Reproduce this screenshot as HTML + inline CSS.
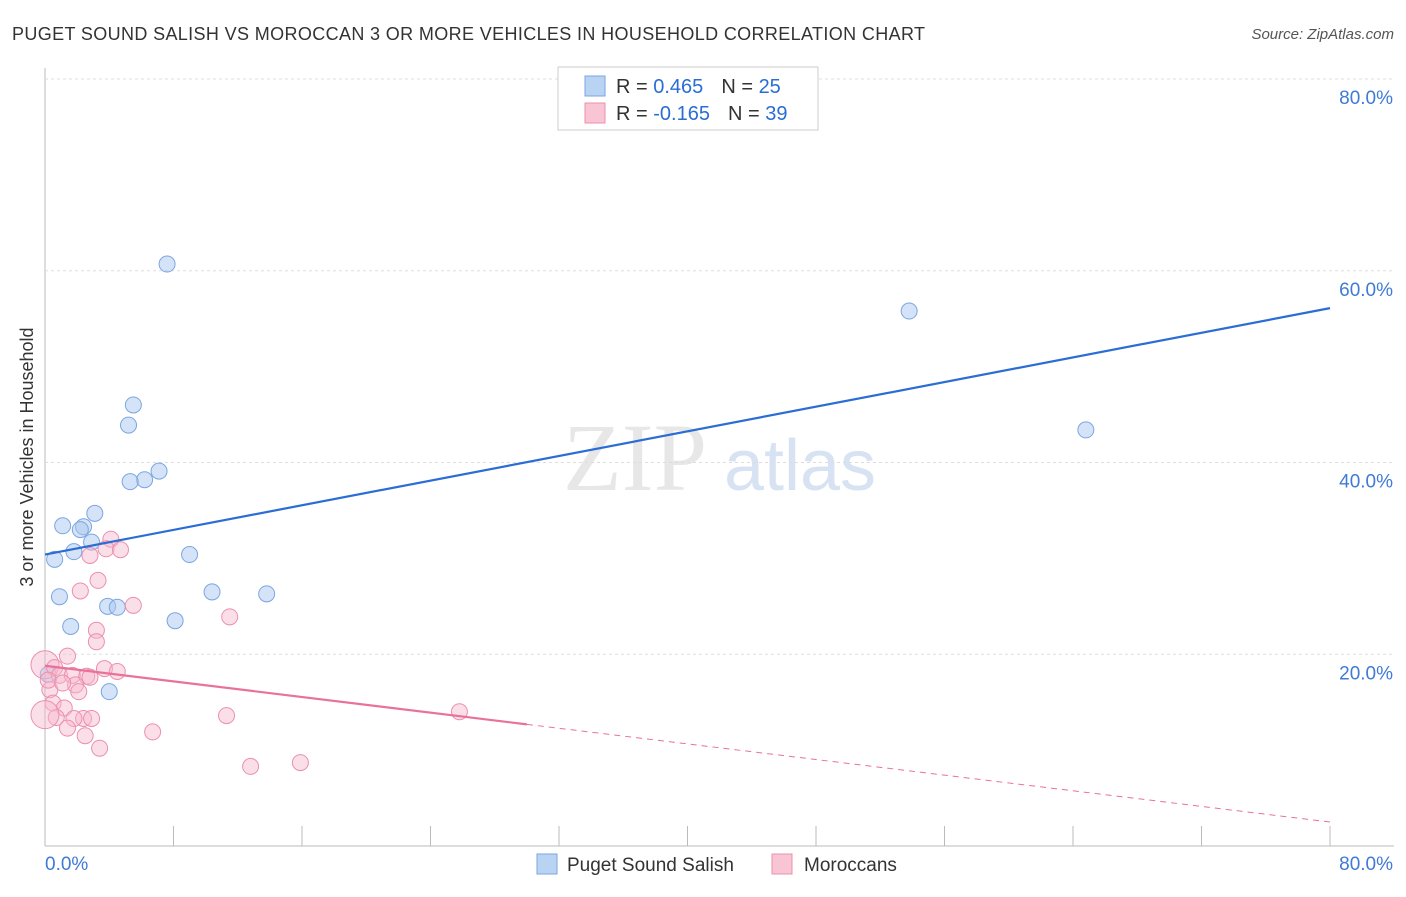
<!DOCTYPE html>
<html><head><meta charset="utf-8"><style>
body{margin:0;background:#fff;font-family:"Liberation Sans",sans-serif}
</style></head><body>
<svg id="chart" width="1406" height="892" xmlns="http://www.w3.org/2000/svg" font-family="Liberation Sans, sans-serif">
<text x="12" y="40" font-size="18" fill="#333" textLength="913" lengthAdjust="spacing">PUGET SOUND SALISH VS MOROCCAN 3 OR MORE VEHICLES IN HOUSEHOLD CORRELATION CHART</text>
<text x="1394" y="39" font-size="15" fill="#555" text-anchor="end" font-style="italic">Source: ZipAtlas.com</text>
<text transform="translate(33,457) rotate(-90)" font-size="18" fill="#333" text-anchor="middle">3 or more Vehicles in Household</text>
<g><text x="635" y="490" font-size="96" fill="#ddd" font-family="Liberation Serif, serif" text-anchor="middle" opacity="0.7">ZIP</text><text x="800" y="490" font-size="72" fill="#c7d8ee" text-anchor="middle" opacity="0.7">atlas</text></g>
<g id="grid"></g><g id="marks"></g>
<g>
<rect x="558" y="67" width="260" height="63" fill="#fff" stroke="#ccc"/>
<rect x="585" y="76" width="20" height="20" fill="#b9d3f3" stroke="#7aa6e0"/>
<rect x="585" y="103" width="20" height="20" fill="#f9c4d4" stroke="#ec8fae"/>
<text x="616" y="93" font-size="20" fill="#333">R = <tspan fill="#2a6dd4"> 0.465</tspan><tspan dx="18">N = </tspan><tspan fill="#2a6dd4">25</tspan></text>
<text x="616" y="120" font-size="20" fill="#333">R = <tspan fill="#2a6dd4">-0.165</tspan><tspan dx="18">N = </tspan><tspan fill="#2a6dd4">39</tspan></text>
</g>
<g>
<rect x="537" y="854" width="20" height="20" fill="#b9d3f3" stroke="#7aa6e0"/>
<text x="567" y="871" font-size="19" fill="#333">Puget Sound Salish</text>
<rect x="772" y="854" width="20" height="20" fill="#f9c4d4" stroke="#ec8fae"/>
<text x="804" y="871" font-size="19" fill="#333">Moroccans</text>
</g>
</svg>
<script>
const yTicks=[20,40,60,80];
const yTickLabels=["20.0%","40.0%","60.0%","80.0%"];
const xTicks=[0,8,16,24,32,40,48,56,64,72,80];
const blueX=[7.6,53.8,5.5,5.2,64.8,7.1,6.2,5.3,3.1,1.1,2.4,2.2,2.9,1.8,9.0,0.6,0.9,10.4,13.8,3.9,4.5,1.6,8.1,4.0,0.2];
const blueY=[60.7,55.8,46.0,43.9,43.4,39.1,38.2,38.0,34.7,33.4,33.3,33.0,31.7,30.7,30.4,29.9,26.0,26.5,26.3,25.0,24.9,22.9,23.5,16.1,17.9];
const pinkX=[4.1,3.8,4.7,2.8,3.3,2.2,5.5,11.5,3.2,3.2,1.4,0,0.6,3.7,4.5,0.9,1.7,2.6,2.8,1.9,0.3,2.1,0.5,1.2,25.8,11.3,0.7,2.4,2.9,1.8,0,1.4,2.5,6.7,3.4,12.8,15.9,0.2,1.1];
const pinkY=[32.0,31.0,30.9,30.3,27.7,26.6,25.1,23.9,22.5,21.3,19.8,18.9,18.6,18.5,18.2,17.8,17.8,17.7,17.6,16.8,16.3,16.1,14.9,14.4,14.0,13.6,13.4,13.3,13.3,13.3,13.7,12.3,11.5,11.9,10.2,8.3,8.7,17.3,17.0];
const pinkR=[8,8,8,8,8,8,8,8,8,8,8,14,8,8,8,8,8,8,8,8,8,8,8,8,8,8,8,8,8,8,14,8,8,8,8,8,8,8,8];
const blueLine=[30.4,56.1];
const pinkLine=[18.8,2.5];
const pinkSolidEnd=30;
const X=v=>45+v*(1285/80), Y=v=>846-v*(767/80);
const NS="http://www.w3.org/2000/svg";
const grid=document.getElementById('grid'),marks=document.getElementById('marks');
function mk(p,t,a){const e=document.createElementNS(NS,t);for(const k in a)e.setAttribute(k,a[k]);p.appendChild(e);return e;}
let ax=mk(grid,'line',{x1:45,y1:68,x2:45,y2:846,stroke:'#bbb'});

let bx=mk(grid,'line',{x1:45,y1:846,x2:1394,y2:846,stroke:'#bbb'});

yTicks.forEach((t,i)=>{let l=mk(grid,'line',{x1:45,y1:Y(t),x2:1394,y2:Y(t),stroke:'#ddd','stroke-dasharray':'3,3'});

let tx=mk(grid,'text',{x:1393,y:Y(t)+25,'font-size':19,fill:'#3f7ad6','text-anchor':'end'});tx.textContent=yTickLabels[i];
});
xTicks.forEach(t=>{let l=mk(grid,'line',{x1:X(t),y1:826,x2:X(t),y2:846,stroke:'#bbb'});
});
let x0=mk(grid,'text',{x:45,y:870,'font-size':19,fill:'#3f7ad6'});x0.textContent='0.0%';

let x1=mk(grid,'text',{x:1393,y:870,'font-size':19,fill:'#3f7ad6','text-anchor':'end'});x1.textContent='80.0%';

blueX.forEach((v,i)=>{let c=mk(marks,'circle',{cx:X(v),cy:Y(blueY[i]),r:8,fill:'rgba(169,200,240,0.5)',stroke:'#7aa6e0','stroke-width':1});
});
pinkX.forEach((v,i)=>{let c=mk(marks,'circle',{cx:X(v),cy:Y(pinkY[i]),r:pinkR[i],fill:'rgba(247,185,204,0.45)',stroke:'#ec8fae','stroke-width':1});
});
let bl=mk(marks,'line',{x1:X(0),y1:Y(blueLine[0]),x2:X(80),y2:Y(blueLine[1]),stroke:'#2a6dd4','stroke-width':2.2});

const py=x=>pinkLine[0]+(pinkLine[1]-pinkLine[0])*x/80;
let pl=mk(marks,'line',{x1:X(0),y1:Y(py(0)),x2:X(pinkSolidEnd),y2:Y(py(pinkSolidEnd)),stroke:'#e8729a','stroke-width':2.2});

let pd=mk(marks,'line',{x1:X(pinkSolidEnd),y1:Y(py(pinkSolidEnd)),x2:X(80),y2:Y(py(80)),stroke:'#e8729a','stroke-width':1,'stroke-dasharray':'6,5'});

</script>
</body></html>
